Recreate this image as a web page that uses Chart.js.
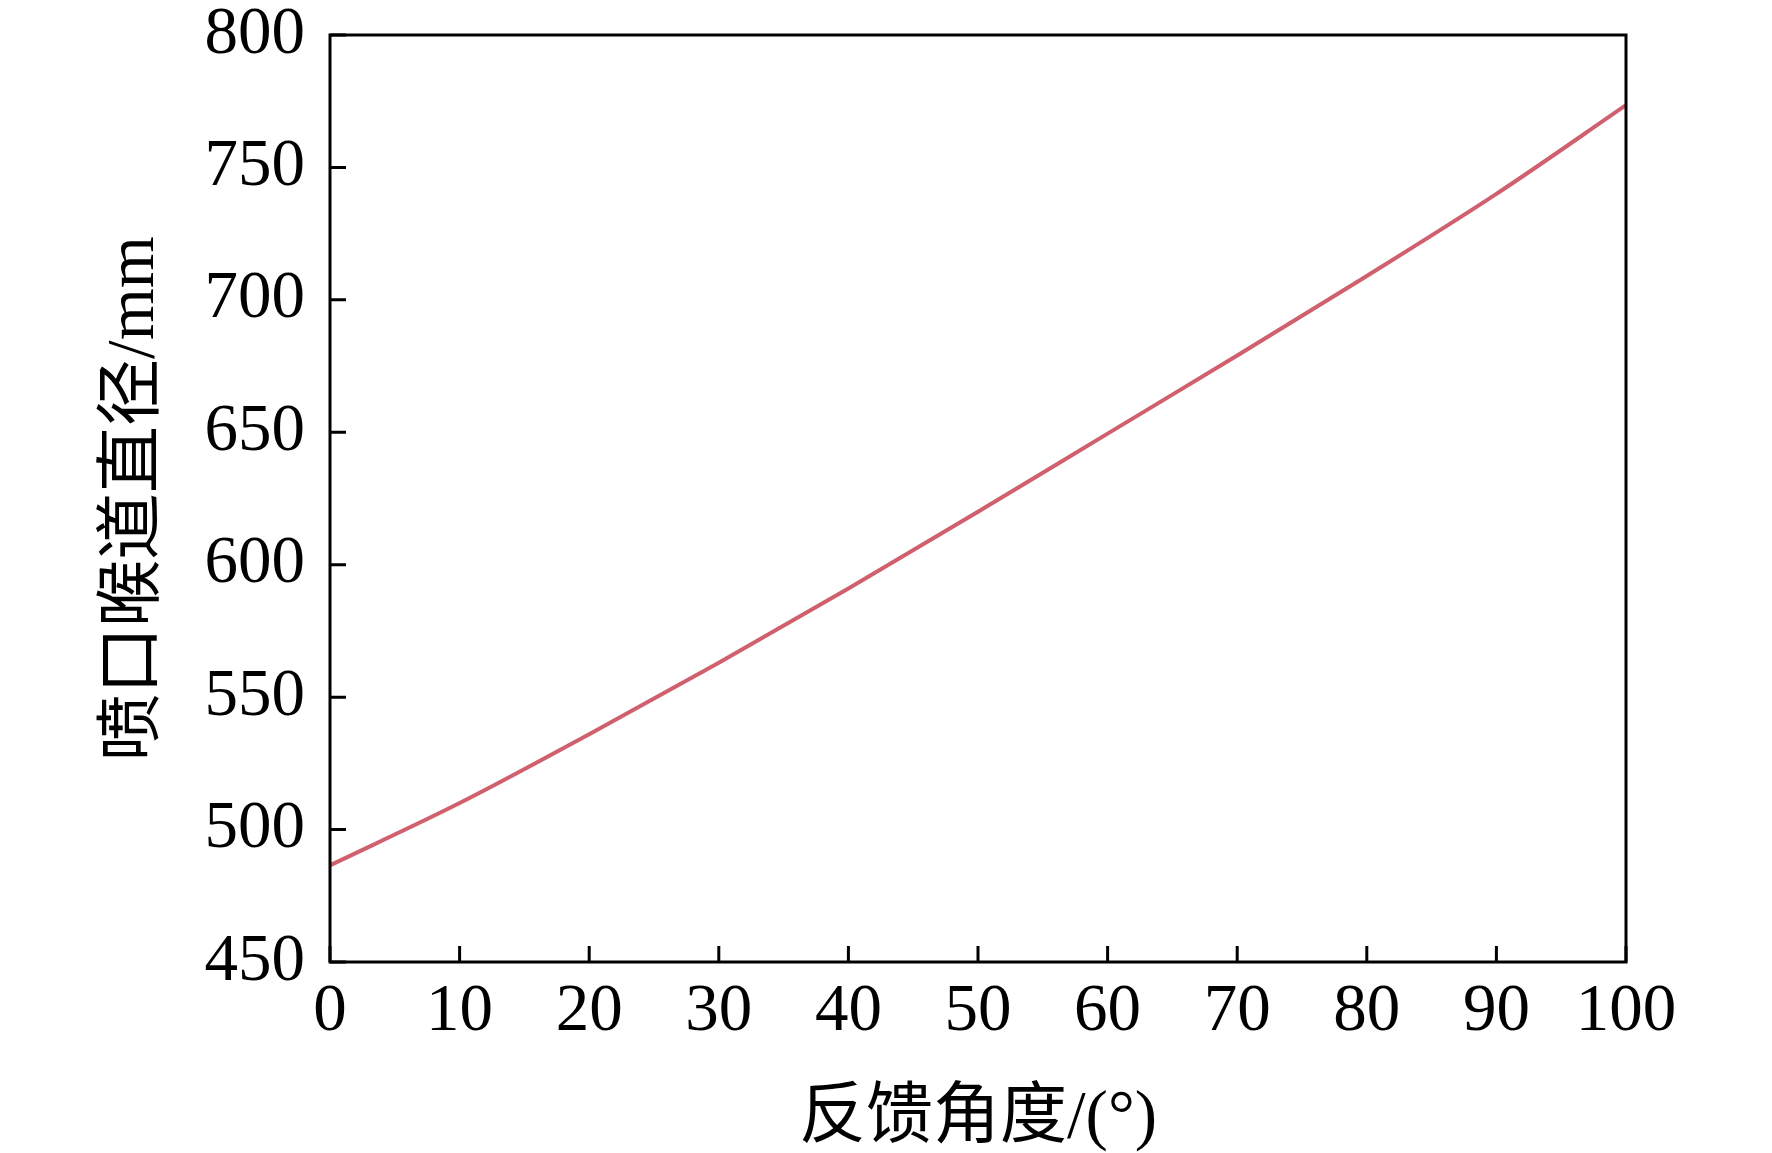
<!DOCTYPE html>
<html>
<head>
<meta charset="utf-8">
<script src="https://cdn.jsdelivr.net/npm/chart.js@4/dist/chart.umd.min.js"></script>
<style>
  html, body { margin: 0; padding: 0; background: #fff; }
  #wrap { width: 1772px; height: 1153px; }
</style>
</head>
<body>
<div id="wrap"><canvas id="chart"></canvas></div>
<script>
// feedback angle (deg) vs. nozzle throat diameter (mm)
var angles = [0, 10, 20, 30, 40, 50, 60, 70, 80, 90, 100];
var diameters = [486.5, 510, 536, 563, 591, 620, 649.5, 679, 709, 740, 773.5];

var xTicks = [0, 10, 20, 30, 40, 50, 60, 70, 80, 90, 100];
var yTicks = [450, 500, 550, 600, 650, 700, 750, 800];

var xTitle = '反馈角度/(°)';
var yTitle = '喷口喉道直径/mm';

var points = angles.map(function (a, i) { return { x: a, y: diameters[i] }; });

// frame round the plot and inward tick marks on left and bottom
var framePlugin = {
    id: 'frame',
    afterDraw: function (chart) {
        var ctx = chart.ctx;
        var a = chart.chartArea;
        var xs = chart.scales.x;
        var ys = chart.scales.y;
        ctx.save();
        ctx.strokeStyle = '#000';
        ctx.lineWidth = 3;
        ctx.lineCap = 'butt';
        ctx.beginPath();
        xTicks.forEach(function (v) {
            var px = xs.getPixelForValue(v);
            ctx.moveTo(px, a.bottom);
            ctx.lineTo(px, a.bottom - 16);
        });
        yTicks.forEach(function (v) {
            var py = ys.getPixelForValue(v);
            ctx.moveTo(a.left, py);
            ctx.lineTo(a.left + 16, py);
        });
        ctx.stroke();
        ctx.strokeRect(a.left, a.top, a.right - a.left, a.bottom - a.top);
        ctx.restore();
    }
};

var tickFont = { family: "'Liberation Serif', 'Times New Roman', serif", size: 67, lineHeight: 1 };
var titleFont = { family: "'Liberation Serif', 'Noto Sans CJK SC', serif", size: 67, lineHeight: 1 };

function noPad(s) {
    s.paddingTop = 0;
    s.paddingBottom = 0;
    s.paddingLeft = 0;
    s.paddingRight = 0;
}

var ctx = document.getElementById('chart').getContext('2d');
var chart = new Chart(ctx, {
    type: 'line',
    data: {
        datasets: [{
            data: points,
            borderColor: '#d0606e',
            borderWidth: 4,
            pointRadius: 0,
            fill: false,
            cubicInterpolationMode: 'monotone'
        }]
    },
    options: {
        responsive: true,
        maintainAspectRatio: false,
        animation: false,
        layout: { padding: { left: 0, top: 35, right: 146, bottom: 0 } },
        plugins: {
            legend: { display: false },
            tooltip: { enabled: false }
        },
        scales: {
            x: {
                type: 'linear',
                min: 0,
                max: 100,
                afterBuildTicks: function (s) { s.ticks = xTicks.map(function (v) { return { value: v }; }); },
                afterFit: function (s) { s.height = 191; noPad(s); },
                ticks: { color: '#000', font: tickFont, padding: 17, maxRotation: 0, autoSkip: false },
                grid: { display: false, drawTicks: false },
                border: { display: false },
                title: { display: true, text: xTitle, color: '#000', font: titleFont, padding: { top: 0, bottom: 0 } }
            },
            y: {
                type: 'linear',
                min: 450,
                max: 800,
                afterBuildTicks: function (s) { s.ticks = yTicks.map(function (v) { return { value: v }; }); },
                afterFit: function (s) { s.width = 330; noPad(s); },
                ticks: { color: '#000', font: tickFont, padding: 25, autoSkip: false },
                grid: { display: false, drawTicks: false },
                border: { display: false },
                title: { display: true, text: yTitle, color: '#000', font: titleFont, padding: { top: 102, bottom: 0 } }
            }
        }
    },
    plugins: [framePlugin]
});
</script>
</body>
</html>
